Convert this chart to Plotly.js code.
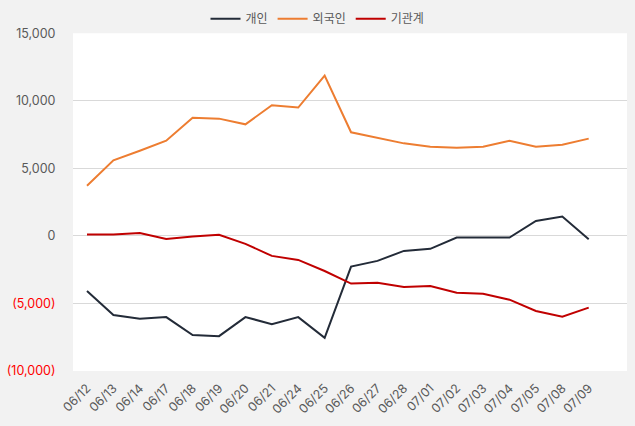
<!DOCTYPE html>
<html>
<head>
<meta charset="utf-8">
<script src="https://cdn.plot.ly/plotly-3.0.1.min.js"></script>
<style>
html,body{margin:0;padding:0;background:#f2f2f2;}
#chart{width:635px;height:426px;}
</style>
</head>
<body>
<div id="chart"></div>
<script>
const dates = ["06/12","06/13","06/14","06/17","06/18","06/19","06/20","06/21","06/24","06/25","06/26","06/27","06/28","07/01","07/02","07/03","07/04","07/05","07/08","07/09"];
const individual = [-4080,-5860,-6130,-6010,-7340,-7420,-6010,-6530,-6010,-7540,-2270,-1850,-1110,-960,-120,-120,-120,1110,1430,-250];
const foreign = [3710,5590,6300,7050,8750,8680,8260,9670,9500,11870,7670,7250,6850,6600,6530,6600,7050,6600,6750,7200];
const institution = [100,100,220,-220,-50,80,-590,-1480,-1780,-2600,-3530,-3460,-3780,-3710,-4200,-4280,-4720,-5560,-5980,-5310];
const seriesNames = ["개인","외국인","기관계"];
const yTickVals = [15000,10000,5000,0,-5000,-10000];
const yTickText = ["15,000","10,000","5,000","0",
  '<span style="fill:#ff0000">(5,000)</span>',
  '<span style="fill:#ff0000">(10,000)</span>'];

const font = "Inter, 'Noto Sans CJK KR', sans-serif";
const data = [
  {x: dates, y: individual, name: seriesNames[0], type: 'scatter', mode: 'lines', line: {color: '#232b38', width: 2}},
  {x: dates, y: foreign, name: seriesNames[1], type: 'scatter', mode: 'lines', line: {color: '#ed7d31', width: 2}},
  {x: dates, y: institution, name: seriesNames[2], type: 'scatter', mode: 'lines', line: {color: '#c00000', width: 2}}
];
const layout = {
  width: 635, height: 426,
  paper_bgcolor: '#f2f2f2', plot_bgcolor: '#ffffff',
  margin: {l: 73, r: 8, t: 33, b: 55},
  font: {family: font, size: 12, color: '#595959'},
  showlegend: true,
  legend: {orientation: 'h', xref: 'container', yref: 'container', x: 0.5, xanchor: 'center', y: 0.99, yanchor: 'top',
    font: {size: 12, color: '#595959'}, bgcolor: 'rgba(0,0,0,0)', itemwidth: 30, tracegroupgap: 0},
  xaxis: {type: 'category', range: [-0.53, 20.45], tickangle: -45, showgrid: false, zeroline: false,
    showline: false, ticks: 'outside', ticklen: 4, tickcolor: 'rgba(0,0,0,0)',
    tickfont: {size: 12.5, color: '#595959'}, fixedrange: true},
  yaxis: {range: [-10000, 15000], tickvals: yTickVals, ticktext: yTickText, showgrid: true,
    gridcolor: '#d9d9d9', gridwidth: 1, zeroline: false, showline: false,
    ticks: 'outside', ticklen: 14, tickcolor: 'rgba(0,0,0,0)',
    tickfont: {size: 12.5, color: '#595959'}, fixedrange: true}
};
Plotly.newPlot('chart', data, layout, {displayModeBar: false, staticPlot: true});
</script>
</body>
</html>
